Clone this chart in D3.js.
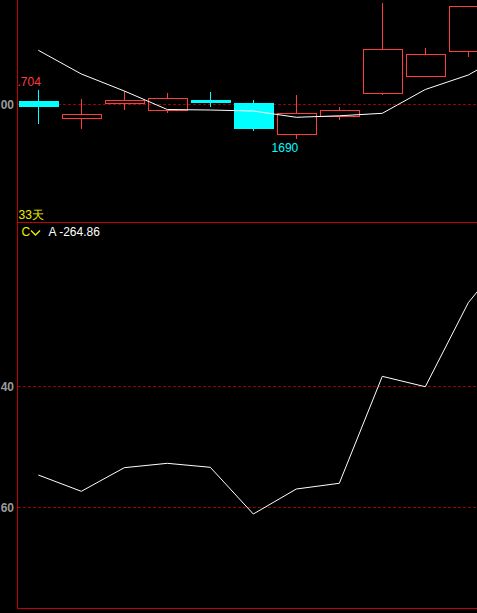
<!DOCTYPE html>
<html>
<head>
<meta charset="utf-8">
<script src="https://cdn.jsdelivr.net/npm/d3@7/dist/d3.min.js"></script>
<style>
  html, body { margin: 0; padding: 0; background: #000; overflow: hidden; }
  svg { display: block; }
  text { font-family: "Liberation Sans", Arial, sans-serif; }
</style>
</head>
<body>
<div id="chart"></div>
<script>
// K-line bars (price units), one entry per trading day
const candleOpen  = [1700.9, 1696.05, 1700.29, 1698.07, 1701.24, 1700.29, 1691.15, 1696.34, 1702.97, 1707.87, 1715.36];
const candleClose = [1699.4, 1697.12, 1701.24, 1701.64, 1700.58, 1693.08, 1697.32, 1698.18, 1715.76, 1714.32, 1728.24];
const candleHigh  = [1704.0, 1701.44, 1703.75, 1703.08, 1703.46, 1701.15, 1702.59, 1699.14, 1729.11, 1716.14, 1728.24];
const candleLow   = [1694.24, 1692.88, 1698.36, 1697.49, 1699.14, 1692.31, 1690.0, 1695.48, 1702.59, 1707.87, 1713.63];
// moving average (last value belongs to the next, off-screen day)
const maValues    = [1715.48, 1708.65, 1703.75, 1698.41, 1698.27, 1697.98, 1696.17, 1696.6, 1697.32, 1704.18, 1708.36, 1715.3];
// lower indicator line
const indValues   = [-254.66, -257.36, -253.45, -252.73, -253.39, -261.11, -256.98, -256.03, -238.35, -240.07, -226.18, -217.5];

const priceTicks = [1700];
const priceTickLabels = ["00"];
const indTicks = [-240, -260];
const indTickLabels = ["40", "60"];

const highMark = { index: 0, value: 1704, label: ".704" };
const lowMark  = { index: 6, value: 1690, label: "1690" };
const periodLabel = "33天";
const indName = "C";
const indValueLabel = "A -264.86";

const W = 477, H = 613;
const left = 17, topPanelBottom = 222, lowPanelBottom = 608;

const UP = "#ff3c3c", DOWN = "#00ffff", AXIS = "#c40000", GRID = "#9a0000";

const svg = d3.select("#chart").append("svg")
  .attr("width", W).attr("height", H)
  .style("background", "#000");

const days = d3.range(maValues.length);
const x = d3.scalePoint().domain(days).range([38.3, 38.3 + 43 * (days.length - 1)]);
const bodyW = x.step() * 0.907;

const yTop = d3.scaleLinear().domain([1690, 1700]).range([138.7, 104]);
const yLow = d3.scaleLinear().domain([-260, -240]).range([507.3, 386.3]);

// clip regions for the two panels
const defs = svg.append("defs");
defs.append("clipPath").attr("id", "clipTop").append("rect")
  .attr("x", left + 1).attr("y", 0).attr("width", W - left).attr("height", topPanelBottom);
defs.append("clipPath").attr("id", "clipLow").append("rect")
  .attr("x", left + 1).attr("y", topPanelBottom + 1).attr("width", W - left).attr("height", lowPanelBottom - topPanelBottom - 1);

// dashed reference lines
const topGrid = svg.append("g");
topGrid.selectAll("line").data(priceTicks).join("line")
  .attr("x1", left + 1).attr("x2", W)
  .attr("y1", d => Math.round(yTop(d)) + 0.5).attr("y2", d => Math.round(yTop(d)) + 0.5)
  .attr("stroke", GRID).attr("stroke-dasharray", "3,2").attr("shape-rendering", "crispEdges");
const lowGrid = svg.append("g");
lowGrid.selectAll("line").data(indTicks).join("line")
  .attr("x1", left + 1).attr("x2", W)
  .attr("y1", d => Math.round(yLow(d)) + 0.5).attr("y2", d => Math.round(yLow(d)) + 0.5)
  .attr("stroke", GRID).attr("stroke-dasharray", "3,2").attr("shape-rendering", "crispEdges");

// axis tick labels on the left
svg.append("g").selectAll("text").data(priceTicks).join("text")
  .attr("x", 14).attr("y", d => yTop(d) + 4.5)
  .attr("text-anchor", "end").attr("fill", "#9a9a9a")
  .attr("font-size", 12).attr("font-weight", "bold")
  .text((d, i) => priceTickLabels[i]);
svg.append("g").selectAll("text").data(indTicks).join("text")
  .attr("x", 14).attr("y", d => yLow(d) + 4.5)
  .attr("text-anchor", "end").attr("fill", "#9a9a9a")
  .attr("font-size", 12).attr("font-weight", "bold")
  .text((d, i) => indTickLabels[i]);

// candlesticks
const candles = d3.range(candleOpen.length).map(i => ({
  i, o: candleOpen[i], c: candleClose[i], h: candleHigh[i], l: candleLow[i]
}));
const gC = svg.append("g").attr("clip-path", "url(#clipTop)").attr("shape-rendering", "crispEdges");
candles.forEach(d => {
  const up = d.c >= d.o;
  const col = up ? UP : DOWN;
  const cx = Math.round(x(d.i)) + 0.5;
  const yt = yTop(Math.max(d.o, d.c)), yb = yTop(Math.min(d.o, d.c));
  const g = gC.append("g");
  if (up) {
    g.append("line").attr("x1", cx).attr("x2", cx).attr("y1", yTop(d.h)).attr("y2", yt).attr("stroke", col);
    g.append("line").attr("x1", cx).attr("x2", cx).attr("y1", yb).attr("y2", yTop(d.l)).attr("stroke", col);
    g.append("rect")
      .attr("x", Math.round(x(d.i) - bodyW / 2) + 0.5).attr("y", Math.round(yt) + 0.5)
      .attr("width", Math.round(bodyW)).attr("height", Math.max(1, Math.round(yb - yt)))
      .attr("fill", "none").attr("stroke", col);
  } else {
    g.append("line").attr("x1", cx).attr("x2", cx).attr("y1", yTop(d.h)).attr("y2", yTop(d.l)).attr("stroke", col);
    g.append("rect")
      .attr("x", Math.round(x(d.i) - bodyW / 2)).attr("y", Math.round(yt))
      .attr("width", Math.round(bodyW) + 1).attr("height", Math.max(2, Math.round(yb - yt) + 1))
      .attr("fill", col);
  }
});

// moving average line
svg.append("path").datum(maValues)
  .attr("clip-path", "url(#clipTop)")
  .attr("d", d3.line().x((d, i) => x(i)).y(d => yTop(d)))
  .attr("fill", "none").attr("stroke", "#ffffff").attr("stroke-width", 1);

// high / low markers
svg.append("text")
  .attr("x", left + 0.5).attr("y", yTop(highMark.value) - 4)
  .attr("fill", UP).attr("font-size", 12).text(highMark.label);
svg.append("text")
  .attr("x", x(lowMark.index) + 2).attr("y", yTop(lowMark.value) + 13.3)
  .attr("text-anchor", "end").attr("fill", DOWN).attr("font-size", 12).text(lowMark.label);

// period label above the separator
svg.append("text").attr("x", 18.5).attr("y", 219).attr("fill", "#f0f000").attr("font-size", 12).text(periodLabel);

// indicator header
svg.append("text").attr("x", 21.5).attr("y", 236).attr("fill", "#f0f000").attr("font-size", 12).text(indName);
svg.append("path").attr("d", "M31,230.5 L35.5,235 L40,230.5")
  .attr("fill", "none").attr("stroke", "#f0f000").attr("stroke-width", 1.3);
svg.append("text").attr("x", 48.5).attr("y", 236).attr("fill", "#ffffff").attr("font-size", 12).text(indValueLabel);

// indicator line
svg.append("path").datum(indValues)
  .attr("clip-path", "url(#clipLow)")
  .attr("d", d3.line().x((d, i) => x(i)).y(d => yLow(d)))
  .attr("fill", "none").attr("stroke", "#ffffff").attr("stroke-width", 1);

// frame: left axis, panel separator, bottom border
const frame = svg.append("g").attr("stroke", AXIS).attr("shape-rendering", "crispEdges");
frame.append("line").attr("x1", left + 0.5).attr("x2", left + 0.5).attr("y1", 0).attr("y2", lowPanelBottom + 0.5);
frame.append("line").attr("x1", left).attr("x2", W).attr("y1", topPanelBottom + 0.5).attr("y2", topPanelBottom + 0.5);
frame.append("line").attr("x1", left).attr("x2", W).attr("y1", lowPanelBottom + 0.5).attr("y2", lowPanelBottom + 0.5);
</script>
</body>
</html>
